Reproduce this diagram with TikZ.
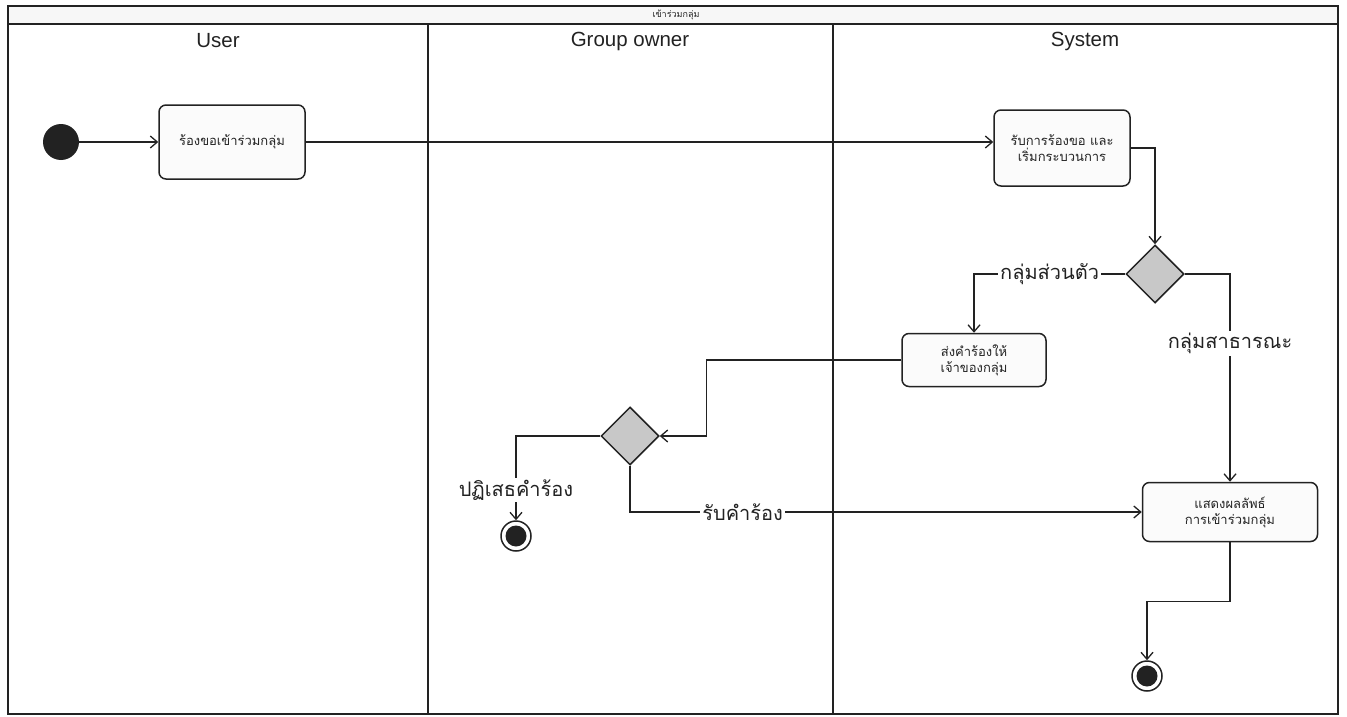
\documentclass[tikz,border=0pt]{standalone}
\usepackage{fontspec}
\setmainfont{Liberation Sans}
\newfontfamily\thai[Script=Thai]{Loma}
\usetikzlibrary{arrows.meta,shapes.geometric}
\definecolor{ink}{HTML}{222222}
\definecolor{decfill}{HTML}{C8C8C8}
\tikzset{
  act/.style={draw=ink, rounded corners=7pt, fill=gray!3, line width=1.5pt,
    font=\thai\fontsize{13}{16}\selectfont, align=center, inner sep=0pt, text=ink},
  dec/.style={diamond, draw=ink, fill=decfill, line width=1.5pt,
    minimum width=58pt, minimum height=58pt, inner sep=0pt},
  startst/.style={circle, fill=ink, minimum size=36pt, inner sep=0pt},
  endst/.style={circle, draw=ink, fill=white, line width=1.5pt, minimum size=30pt, inner sep=0pt,
    path picture={\fill[ink] (path picture bounding box.center) circle (10.5pt);}},
  flow/.style={draw=ink, line width=1.3pt, -{Straight Barb[length=7pt,width=12pt,line width=1.3pt]}},
  lbl/.style={fill=white, font=\thai\fontsize{20}{23}\selectfont, inner sep=2pt, text=ink},
  lanehead/.style={font=\fontsize{20.5}{24}\selectfont, text=ink},
  frame/.style={draw=ink, line width=1.4pt}
}
\begin{document}
\begin{tikzpicture}[x=1pt,y=-1pt]
\useasboundingbox (0,0) rectangle (1347,717);
% swimlane frame
\fill[gray!6] (8,6) rectangle (1338,24);
\draw[frame] (8,6) rectangle (1338,714);
\draw[frame] (8,24) -- (1338,24);
\draw[frame] (428,24) -- (428,714);
\draw[frame] (833,24) -- (833,714);
\node[font=\thai\fontsize{9}{11}\selectfont, text=ink] (title) at (676,15) {เข้าร่วมกลุ่ม};
\node[lanehead] (hU) at (218,41) {User};
\node[lanehead] (hG) at (630,41) {Group owner};
\node[lanehead] (hS) at (1085,41) {System};
% nodes
\node[startst] (start) at (61,142) {};
\node[act, minimum width=146pt, minimum height=74pt] (n1) at (232,142) {ร้องขอเข้าร่วมกลุ่ม};
\node[act, minimum width=136pt, minimum height=76pt] (n2) at (1062,148) {รับการร้องขอ และ\\เริ่มกระบวนการ};
\node[dec] (d1) at (1155,274) {};
\node[act, minimum width=144pt, minimum height=53pt] (n3) at (974,360) {ส่งคำร้องให้\\เจ้าของกลุ่ม};
\node[dec] (d2) at (630,436) {};
\node[act, minimum width=175pt, minimum height=59pt] (n4) at (1230,512) {แสดงผลลัพธ์\\การเข้าร่วมกลุ่ม};
\node[endst] (e1) at (516,536) {};
\node[endst] (e2) at (1147,676) {};
% connectors
\draw[flow] (start) -- (n1);
\draw[flow] (n1.east) -- (n1.east -| n2.west);
\draw[flow] (n2.east) -| (d1.north);
\draw[flow] (d1.west) -| node[lbl, pos=0.25] {กลุ่มส่วนตัว} (n3.north);
\draw[flow] (d1.east) -| node[lbl, pos=0.667] {กลุ่มสาธารณะ} (n4.north);
\draw[flow] (n3.west) -- ++(-195,0) |- (d2.east);
\draw[flow] (d2.west) -| node[lbl, pos=0.82] {ปฏิเสธคำร้อง} (e1.north);
\draw[flow] (d2.south) |- node[lbl, pos=0.61] {รับคำร้อง} (n4.west);
\draw[flow] (n4.south) -- ++(0,59) -| (e2.north);
\end{tikzpicture}
\end{document}
